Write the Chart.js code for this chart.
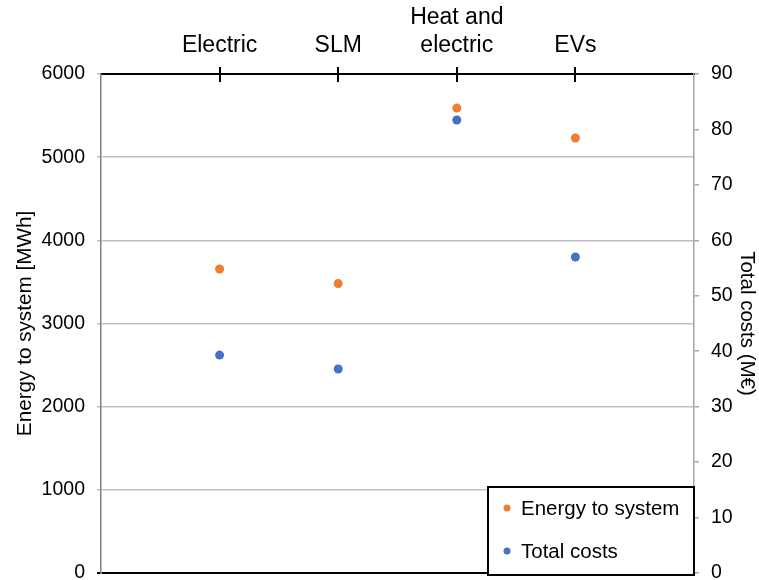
<!DOCTYPE html>
<html>
<head>
<meta charset="utf-8">
<script src="https://cdn.jsdelivr.net/npm/chart.js@4"></script>
<style>
  body { margin: 0; background: #fff; }
  #wrap { width: 759px; height: 580px; }
</style>
</head>
<body>
<div id="wrap"><canvas id="scen" width="759" height="580"></canvas></div>
<script>
// scenarios along the top axis
var categories = [["Electric"], ["SLM"], ["Heat and", "electric"], ["EVs"]];
var energyValues = [3655, 3480, 5590, 5230];   // MWh
var costValues = [39.3, 36.8, 81.7, 57.0];     // M€
var energyTicks = [0, 1000, 2000, 3000, 4000, 5000, 6000];
var costTicks = [0, 10, 20, 30, 40, 50, 60, 70, 80, 90];

var FONT = "'Liberation Sans', Arial, sans-serif";
Chart.defaults.font.family = FONT;
Chart.defaults.font.size = 19.5;
Chart.defaults.color = "#000";

function toPoints(vals){
	return vals.map(function(v, i){ return {x: i + 1, y: v}; });
}

// no extra room for half labels at the ends of the value axes
function tightY(width){
	return function(scale){
		scale.width = width;
		scale.paddingTop = 0;
		scale.paddingBottom = 0;
	};
}

// tick marks crossing the top axis line
var crossTicks = {
	id: "crossTicks",
	afterDraw: function(chart){
		var ctx = chart.ctx, xs = chart.scales.x, top = chart.chartArea.top;
		ctx.save();
		ctx.strokeStyle = "#000";
		ctx.lineWidth = 2;
		xs.ticks.forEach(function(t){
			var px = Math.round(xs.getPixelForValue(t.value));
			ctx.beginPath();
			ctx.moveTo(px, top - 7);
			ctx.lineTo(px, top + 8);
			ctx.stroke();
		});
		ctx.restore();
	}
};

// boxed legend sitting in the lower right corner of the plot
var boxLegend = {
	id: "boxLegend",
	afterDraw: function(chart){
		var ctx = chart.ctx, area = chart.chartArea;
		var w = 206, h = 88;
		var x0 = area.right - w, y0 = area.bottom - h + 2;
		ctx.save();
		ctx.fillStyle = "#fff";
		ctx.fillRect(x0, y0, w, h);
		ctx.strokeStyle = "#000";
		ctx.lineWidth = 2;
		ctx.strokeRect(x0, y0, w, h);
		ctx.font = "20.5px " + FONT;
		ctx.textBaseline = "middle";
		chart.data.datasets.forEach(function(ds, i){
			var cy = y0 + 21 + i * 43;
			ctx.fillStyle = ds.backgroundColor;
			ctx.beginPath();
			ctx.arc(x0 + 19, cy, 3.5, 0, Math.PI * 2);
			ctx.fill();
			ctx.fillStyle = "#000";
			ctx.fillText(ds.label, x0 + 33, cy + 1);
		});
		ctx.restore();
	}
};

var chart = new Chart(document.getElementById("scen"), {
	type: "scatter",
	data: {
		datasets: [
			{
				label: "Energy to system",
				data: toPoints(energyValues),
				yAxisID: "y",
				backgroundColor: "#ED7D31",
				borderColor: "#ED7D31",
				pointRadius: 4.5,
				pointBorderWidth: 0
			},
			{
				label: "Total costs",
				data: toPoints(costValues),
				yAxisID: "y1",
				backgroundColor: "#4472C4",
				borderColor: "#4472C4",
				pointRadius: 4.5,
				pointBorderWidth: 0
			}
		]
	},
	options: {
		responsive: false,
		animation: false,
		layout: { padding: { left: 0, right: 0, top: 0, bottom: 7 } },
		plugins: { legend: { display: false }, tooltip: { enabled: false } },
		scales: {
			x: {
				type: "linear",
				position: "top",
				min: 0,
				max: 5,
				afterBuildTicks: function(scale){
					scale.ticks = categories.map(function(c, i){ return {value: i + 1}; });
				},
				afterFit: function(scale){ scale.height = 74; },
				ticks: {
					autoSkip: false,
					maxRotation: 0,
					padding: 15,
					font: { size: 23 },
					callback: function(v){ return categories[v - 1]; }
				},
				grid: { drawOnChartArea: false, drawTicks: false },
				border: { color: "#000", width: 2 }
			},
			y: {
				position: "left",
				min: 0,
				max: 6000,
				afterBuildTicks: function(scale){
					scale.ticks = energyTicks.map(function(v){ return {value: v}; });
				},
				afterFit: tightY(101),
				ticks: { padding: 12, callback: function(v){ return String(v); } },
				grid: {
					color: function(c){ return c.tick && c.tick.value === 0 ? "#000" : "#bfbfbf"; },
					lineWidth: function(c){ return c.tick && c.tick.value === 0 ? 2 : 1.5; },
					tickLength: 4
				},
				border: { color: "#7f7f7f", width: 1.5 },
				title: {
					display: true,
					text: "Energy to system [MWh]",
					font: { size: 20.7 },
					padding: { top: 13, bottom: 0 }
				}
			},
			y1: {
				position: "right",
				min: 0,
				max: 90,
				afterBuildTicks: function(scale){
					scale.ticks = costTicks.map(function(v){ return {value: v}; });
				},
				afterFit: tightY(65),
				ticks: { padding: 12 },
				grid: { drawOnChartArea: false, color: "#a6a6a6", tickLength: 5, lineWidth: 1.5 },
				border: { color: "#a6a6a6", width: 1.5 },
				title: {
					display: true,
					text: "Total costs (M€)",
					font: { size: 20.5 },
					padding: { top: 0, bottom: 0 }
				}
			}
		}
	},
	plugins: [crossTicks, boxLegend]
});
</script>
</body>
</html>
